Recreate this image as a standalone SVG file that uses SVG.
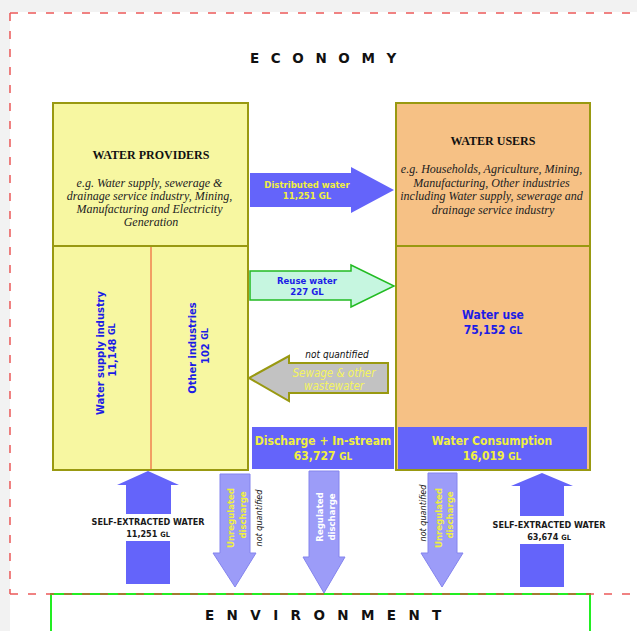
<svg xmlns="http://www.w3.org/2000/svg" width="637" height="631" viewBox="0 0 637 631">
<defs>
<style>
.box{stroke:#999911;stroke-width:2}
.prov{fill:#f7f7a1}
.user{fill:#f6c185}
.blue{fill:#6464fa}
.light{fill:#9c9cf8;stroke:#8484ee;stroke-width:1}
.sans{font-family:"DejaVu Sans Condensed","DejaVu Sans",sans-serif;font-weight:bold}
.serif{font-family:"Liberation Serif","Times New Roman",serif}
.yel{fill:#f0f040}
.bl{fill:#1c1ce6}
.dk{fill:#1a1a1a}
.it{font-style:italic}
.gl{font-size:0.82em}
.dash{stroke:#e83c3c;stroke-opacity:0.85;stroke-width:1.5;stroke-dasharray:8 10;fill:none}
.title{font-family:"DejaVu Sans",sans-serif;font-weight:bold;font-size:13.5px;fill:#111}
.vc{dominant-baseline:central;text-anchor:middle}
</style>
</defs>
<rect x="0" y="0" width="637" height="631" fill="#f2f2f2"/>
<rect x="10" y="12" width="627" height="619" fill="#ffffff"/>
<rect x="51" y="594" width="539" height="50" fill="#ffffff" stroke="#22ee22" stroke-width="2"/>
<path class="dash" d="M10,13 H637 M10,13 V594 M10,594 H637"/>
<text class="title" x="250" y="63" letter-spacing="11.6">ECONOMY</text>
<text class="title" x="205" y="620" letter-spacing="12.4">ENVIRONMENT</text>

<g id="water-providers">
<rect class="box prov" x="53" y="103" width="195" height="367"/>
<line class="box" x1="53" y1="246" x2="248" y2="246"/>
<line x1="151" y1="247" x2="151" y2="469" stroke="#f08050" stroke-width="1.5"/>
<text class="serif" x="151" y="159" font-size="12" font-weight="bold" text-anchor="middle" fill="#111">WATER PROVIDERS</text>
<text class="serif it" x="151" font-size="12" text-anchor="middle" fill="#222">
<tspan x="151" y="187">e.g. Water supply, sewerage &amp;</tspan>
<tspan x="151" y="200">drainage service industry, Mining,</tspan>
<tspan x="151" y="213">Manufacturing and Electricity</tspan>
<tspan x="151" y="226">Generation</tspan>
</text>
<g class="sans bl" font-size="11">
<text class="vc" transform="translate(100,353) rotate(-90)">Water supply industry</text>
<text class="vc" transform="translate(112,350) rotate(-90)">11,148 <tspan class="gl">GL</tspan></text>
<text class="vc" transform="translate(192,348) rotate(-90)">Other industries</text>
<text class="vc" transform="translate(205,346) rotate(-90)">102 <tspan class="gl">GL</tspan></text>
</g>
</g>

<g id="water-users">
<rect class="box user" x="396" y="103" width="194" height="367"/>
<line class="box" x1="396" y1="246" x2="590" y2="246"/>
<text class="serif" x="493" y="145" font-size="12" font-weight="bold" text-anchor="middle" fill="#111">WATER USERS</text>
<text class="serif it" font-size="12" text-anchor="middle" fill="#222">
<tspan x="493" y="173">e.g. Households, Agriculture, Mining,</tspan>
<tspan x="493" y="187">Manufacturing, Other industries</tspan>
<tspan x="493" y="200">including Water supply, sewerage and</tspan>
<tspan x="493" y="214">drainage service industry</tspan>
</text>
<text class="sans bl" font-size="12" text-anchor="middle"><tspan x="493" y="319">Water use</tspan><tspan x="493" y="334">75,152 <tspan class="gl">GL</tspan></tspan></text>
</g>

<g id="water-consumption">
<rect class="blue" x="398" y="427" width="189" height="42"/>
<text class="sans yel" font-size="12" text-anchor="middle"><tspan x="492" y="445">Water Consumption</tspan><tspan x="492" y="460">16,019 <tspan class="gl">GL</tspan></tspan></text>
</g>

<g id="discharge-instream">
<rect class="blue" x="252" y="427" width="142" height="42"/>
<text class="sans yel" font-size="12" text-anchor="middle"><tspan x="323" y="445">Discharge + In-stream</tspan><tspan x="323" y="460">63,727 <tspan class="gl">GL</tspan></tspan></text>
</g>

<g id="connectors">
<g id="distributed-water">
<path class="blue" d="M250,173 H351 V167 L394,190 L351,213 V207 H250 Z"/>
<text class="sans yel" font-size="9.5" text-anchor="middle"><tspan x="307" y="188">Distributed water</tspan><tspan x="307" y="199">11,251 GL</tspan></text>
</g>
<g id="reuse-water">
<path d="M250,271 H351 V265 L394,286 L351,307 V300 H250 Z" fill="#c6f6e0" stroke="#22bb22" stroke-width="1.5"/>
<text class="sans bl" font-size="9.5" text-anchor="middle"><tspan x="307" y="284">Reuse water</tspan><tspan x="307" y="295">227 GL</tspan></text>
</g>
<g id="sewage">
<path d="M388,363 H289 V356 L249,378 L289,401 V393 H388 Z" fill="#c2c2c2" stroke="#999911" stroke-width="2"/>
<text x="337" y="358" font-family="DejaVu Sans Condensed,DejaVu Sans,sans-serif" font-size="10" font-style="italic" text-anchor="middle" fill="#111">not quantified</text>
<text font-family="DejaVu Sans Condensed,DejaVu Sans,sans-serif" font-size="11.5" font-style="italic" text-anchor="middle" fill="#f4f460"><tspan x="334" y="377">Sewage &amp; other</tspan><tspan x="334" y="390">wastewater</tspan></text>
</g>
<g id="self-extracted-left">
<path class="blue" d="M148,471 L179,485 H171 V514 H126 V485 H117 Z"/>
<rect class="blue" x="126" y="541" width="44" height="43"/>
<text class="sans dk" font-size="9" text-anchor="middle"><tspan x="148" y="525">SELF-EXTRACTED WATER</tspan><tspan x="148" y="537">11,251 <tspan class="gl">GL</tspan></tspan></text>
</g>
<g id="unregulated-left">
<path class="light" d="M220,474 H250 V553 H256 L235,587 L213,553 H220 Z"/>
<g class="sans yel" font-size="9.5">
<text class="vc" transform="translate(230,518) rotate(-90)">Unregulated</text>
<text class="vc" transform="translate(242,515) rotate(-90)">discharge</text>
</g>
<text class="vc" transform="translate(259,518) rotate(-90)" font-family="DejaVu Sans Condensed,DejaVu Sans,sans-serif" font-size="9" font-style="italic" fill="#111">not quantified</text>
</g>
<g id="regulated">
<path class="light" d="M309,471 H339 V557 H345 L324,593 L303,557 H309 Z"/>
<g class="sans" font-size="9.5" fill="#ffffff">
<text class="vc" transform="translate(319,517) rotate(-90)">Regulated</text>
<text class="vc" transform="translate(331,517) rotate(-90)">discharge</text>
</g>
</g>
<g id="unregulated-right">
<path class="light" d="M428,473 H457 V553 H463 L442,587 L421,553 H428 Z"/>
<g class="sans yel" font-size="9.5">
<text class="vc" transform="translate(438,518) rotate(-90)">Unregulated</text>
<text class="vc" transform="translate(449,515) rotate(-90)">discharge</text>
</g>
<text class="vc" transform="translate(423,513) rotate(-90)" font-family="DejaVu Sans Condensed,DejaVu Sans,sans-serif" font-size="9" font-style="italic" fill="#111">not quantified</text>
</g>
<g id="self-extracted-right">
<path class="blue" d="M542,473 L573,486 H564 V516 H520 V486 H511 Z"/>
<rect class="blue" x="520" y="544" width="44" height="43"/>
<text class="sans dk" font-size="9" text-anchor="middle"><tspan x="549" y="528">SELF-EXTRACTED WATER</tspan><tspan x="549" y="540">63,674 <tspan class="gl">GL</tspan></tspan></text>
</g>
</g>
</svg>
